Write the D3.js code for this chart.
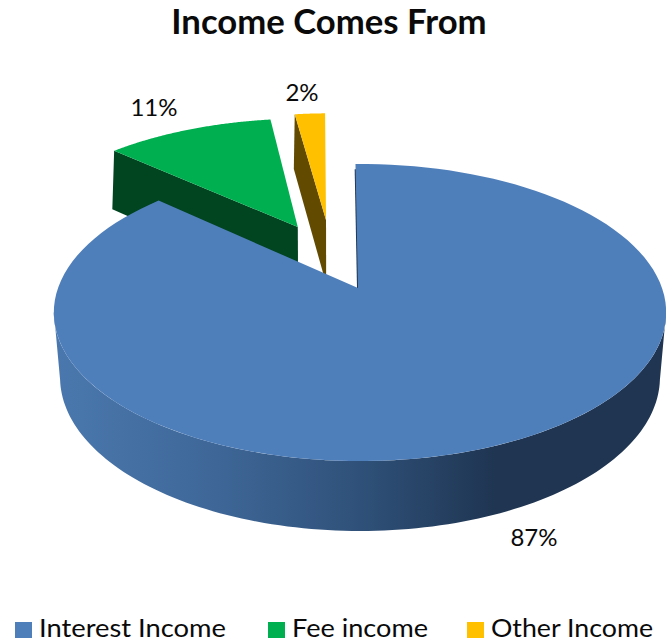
<!DOCTYPE html>
<html>
<head>
<meta charset="utf-8">
<script src="https://cdn.jsdelivr.net/npm/d3@7/dist/d3.min.js"></script>
<style>
html,body{margin:0;padding:0;background:#fff;overflow:hidden}
svg{display:block}
text{font-family:Lato,"Open Sans",sans-serif;fill:#0a0a0a}
</style>
</head>
<body>
<svg id="chart" width="666" height="642"></svg>
<script>
// Income split
const categories = ["Interest Income", "Fee income", "Other Income"];
const shares = [87, 11, 2];
const shareLabels = ["87%", "11%", "2%"];
const topColors = ["#4f7fbb", "#00b050", "#ffc000"];
const faceColors = ["#1f3552", "#004420", "#624a00"];
const explodeX = [0, -0.2245, -0.127];
const explodeY = [0, 0.454, 0.51];
const hubNudgeX = [-0.0066, 0.003, 0.005];
const title = "Income Comes From";

const svg = d3.select("#chart");
const toRad = Math.PI / 180;

// Perspective planes for the upper and lower rims of the disc
const upper = {cx: 360, cy: 288, bx: 302, by: 144.5, p: 0.165};
const lower = {cx: 360, cy: 355.7, bx: 297, by: 150.7, p: 0.14};
const project = (plane, X, Y) => {
  const w = 1 + plane.p * Y;
  return [plane.cx + plane.bx * X / w, plane.cy - plane.by * Y / w];
};

// Slice angles, clockwise from twelve o'clock
const arcs = d3.pie().sort(null).value(d => d)
  .startAngle(-1 * toRad).endAngle(359 * toRad)(shares);

const rim = (plane, i, a) => project(plane,
  Math.sin(a) + explodeX[i], Math.cos(a) + explodeY[i]);
const hub = (plane, i) => project(plane, explodeX[i] + hubNudgeX[i], explodeY[i]);

const arcPoints = (plane, i, a0, a1) =>
  d3.range(0, 121).map(k => rim(plane, i, a0 + (a1 - a0) * k / 120));

const line = d3.line();
const topFace = i => line([hub(upper, i),
  ...arcPoints(upper, i, arcs[i].startAngle, arcs[i].endAngle)]) + "Z";
const radialFace = (i, a) => line([hub(upper, i), rim(upper, i, a),
  rim(lower, i, a), hub(lower, i)]) + "Z";

// Horizontal shading of the curved outer wall
const grad = svg.append("defs").append("linearGradient")
  .attr("id", "wallShade").attr("gradientUnits", "userSpaceOnUse")
  .attr("x1", 54).attr("x2", 666).attr("y1", 0).attr("y2", 0);
[[0, "#4a78ae"], [0.25, "#3f6899"], [0.5, "#2f5179"], [0.72, "#1f3552"], [1, "#1f3552"]]
  .forEach(([o, c]) => grad.append("stop").attr("offset", o).attr("stop-color", c));

// Green and yellow slices sit behind the large slice
[1, 2].forEach(i => {
  svg.append("path").attr("d", radialFace(i, arcs[i].startAngle))
    .attr("fill", faceColors[i]);
  svg.append("path").attr("d", topFace(i)).attr("fill", topColors[i]);
});

// Curved wall of the large slice
const wallFrom = 99 * toRad, wallTo = 261 * toRad;
svg.append("path")
  .attr("d", line([...arcPoints(upper, 0, wallFrom, wallTo),
    ...arcPoints(lower, 0, wallFrom, wallTo).reverse()]) + "Z")
  .attr("fill", "url(#wallShade)");

// Dark cut edge along the notch
const a0 = arcs[0].startAngle;
const notchEnd = project(upper, Math.sin(a0) * 0.95, Math.cos(a0) * 0.95);
svg.append("line")
  .attr("x1", hub(upper, 0)[0]).attr("y1", hub(upper, 0)[1])
  .attr("x2", notchEnd[0]).attr("y2", notchEnd[1])
  .attr("stroke", faceColors[0]).attr("stroke-width", 2);

svg.append("path").attr("d", topFace(0)).attr("fill", topColors[0]);

// Title
svg.append("text").attr("x", 329).attr("y", 34).attr("text-anchor", "middle")
  .attr("font-size", 34.7).attr("font-weight", 700).text(title);

// Percentage labels
const labelAnchors = [[534, 546], [154, 116], [302, 101]];
shareLabels.forEach((t, i) => svg.append("text")
  .attr("x", labelAnchors[i][0]).attr("y", labelAnchors[i][1])
  .attr("text-anchor", "middle").attr("font-size", 24).text(t));

// Legend
const legendX = [15, 268, 467];
const legendWidths = [187, 136, 162];
categories.forEach((c, i) => {
  svg.append("rect").attr("x", legendX[i]).attr("y", 622)
    .attr("width", 17).attr("height", 16).attr("fill", topColors[i]);
  svg.append("text").attr("x", legendX[i] + 24).attr("y", 637)
    .attr("font-size", 25)
    .attr("textLength", legendWidths[i]).attr("lengthAdjust", "spacingAndGlyphs")
    .text(c);
});
</script>
</body>
</html>
